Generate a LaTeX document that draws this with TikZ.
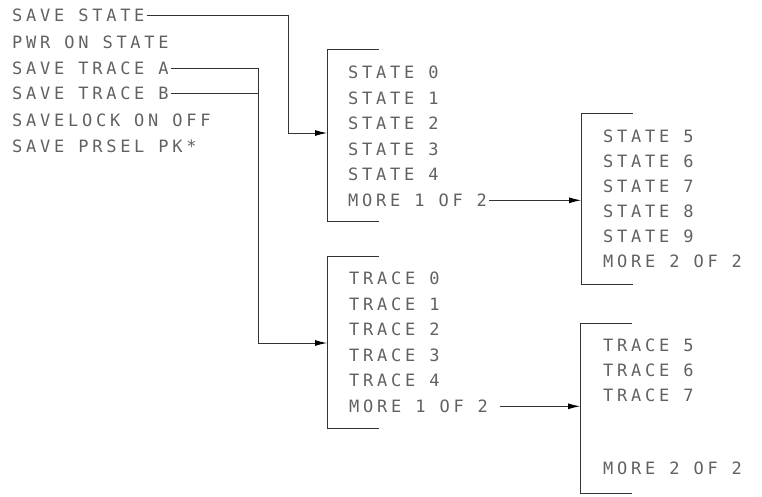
\documentclass[tikz,border=0pt]{standalone}
\usepackage{fontspec}
\newfontfamily\hp[LetterSpace=22]{DejaVu Sans Mono}
\usetikzlibrary{arrows.meta}
\begin{document}
\begin{tikzpicture}[x=1pt,y=-1pt,
  lbl/.style={anchor=base west, inner xsep=2pt, inner ysep=0pt, text height=12.4pt, text depth=0pt, font=\hp\fontsize{17}{17}\selectfont, text=black!62},
  wire/.style={draw=black!80, line width=0.9pt},
  arr/.style={wire, -{Latex[length=12pt,width=6pt,color=black]}},
  brk/.style={draw=black!80, line width=0.9pt}]
\useasboundingbox (0,0) rectangle (762,496);
% left menu
\node[lbl] (ss)  at (10,21.5)  {SAVE STATE};
\node[lbl] (pwr) at (10,48.5)  {PWR ON STATE};
\node[lbl] (sta) at (10,74.5)  {SAVE TRACE A};
\node[lbl] (stb) at (10,99.5)  {SAVE TRACE B};
\node[lbl] (slk) at (10,126.5) {SAVELOCK ON OFF};
\node[lbl] (psl) at (10,152.5) {SAVE PRSEL PK*};
% bracket 1
\draw[brk] (379,49) -- (327,49) -- (327,221) -- (379,221);
\coordinate (b1in) at (327,133);
\coordinate (j1) at (288,133);
\node[lbl] (s0) at (346,78.5)  {STATE 0};
\node[lbl] (s1) at (346,104)   {STATE 1};
\node[lbl] (s2) at (346,129.5) {STATE 2};
\node[lbl] (s3) at (346,155)   {STATE 3};
\node[lbl] (s4) at (346,180.5) {STATE 4};
\node[lbl] (m1) at (346,206.5) {MORE 1 OF 2};
% bracket 2
\draw[brk] (633,113) -- (581,113) -- (581,284) -- (633,284);
\coordinate (b2l) at (581,200);
\node[lbl] (s5) at (601,142.5) {STATE 5};
\node[lbl] (s6) at (601,167.5) {STATE 6};
\node[lbl] (s7) at (601,192.5) {STATE 7};
\node[lbl] (s8) at (601,217.5) {STATE 8};
\node[lbl] (s9) at (601,242.5) {STATE 9};
\node[lbl] (m2) at (601,267.5) {MORE 2 OF 2};
% bracket 3
\draw[brk] (379,256) -- (327,256) -- (327,428) -- (379,428);
\coordinate (b3in) at (327,343);
\coordinate (j2) at (258,343);
\node[lbl] (t0) at (347,284.5) {TRACE 0};
\node[lbl] (t1) at (347,310.5) {TRACE 1};
\node[lbl] (t2) at (347,335.5) {TRACE 2};
\node[lbl] (t3) at (347,361.5) {TRACE 3};
\node[lbl] (t4) at (347,386.5) {TRACE 4};
\node[lbl] (m3) at (347,412.5) {MORE 1 OF 2};
% bracket 4
\draw[brk] (632,323) -- (580,323) -- (580,493) -- (632,493);
\coordinate (b4l) at (580,407);
\node[lbl] (t5) at (601,351.5) {TRACE 5};
\node[lbl] (t6) at (601,376.5) {TRACE 6};
\node[lbl] (t7) at (601,401.5) {TRACE 7};
\node[lbl] (m4) at (601,474)   {MORE 2 OF 2};
% connectors
\draw[arr] (ss.east) -| (j1) -- (b1in);
\draw[arr] (sta.east) -| (j2) -- (b3in);
\draw[wire] (stb.east) -- (stb.east -| j2);
\draw[arr] (m1.east) -- (m1.east -| b2l);
\draw[arr] ([xshift=10pt]m3.east) -- (m3.east -| b4l);
\end{tikzpicture}
\end{document}
